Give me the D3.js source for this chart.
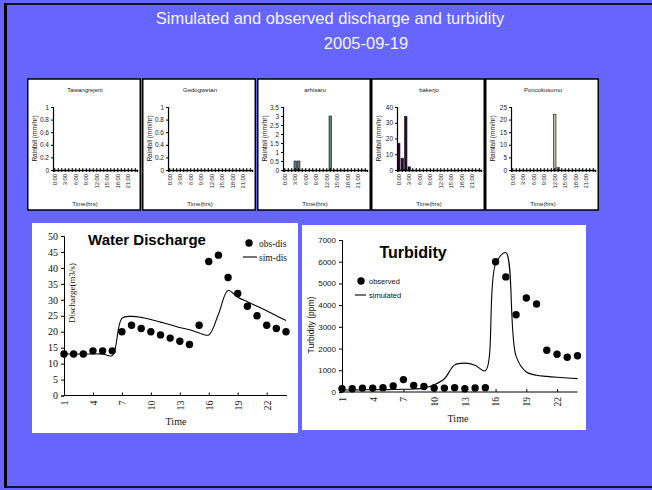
<!DOCTYPE html>
<html>
<head>
<meta charset="utf-8">
<script src="https://cdn.jsdelivr.net/npm/d3@7"></script>
<style>
  body { margin: 0; background: #6666ff; }
  svg { display: block; }
</style>
</head>
<body>
<svg id="chart" width="652" height="490"></svg>
<script>
// ---- rainfall by station (mm/hr), hourly 0:00 .. 23:00 ----
const hours = d3.range(24);
const hourLabels = ["0:00", "3:00", "6:00", "9:00", "12:00", "15:00", "18:00", "21:00"];
const stations = ["Tawangrejeni", "Gedogwetan", "arhisaru", "bakerjo", "Poncokusumo"];
const rainTawangrejeni = [0,0,0,0,0,0,0,0,0,0,0,0,0,0,0,0,0,0,0,0,0,0,0,0];
const rainGedogwetan   = [0,0,0,0,0,0,0,0,0,0,0,0,0,0,0,0,0,0,0,0,0,0,0,0];
const rainArhisaru     = [0,0,0,0.5,0.5,0,0,0,0,0,0,0,0,3,0,0,0,0,0,0,0,0,0,0];
const rainBakerjo      = [17,7.5,34,2,0,0,0,0,0,0,0,0,0,0,0,0,0,0,0,0,0,0,0,0];
const rainPoncokusumo  = [0,0,0,0,0,0,0,0,0,0,0,0,22,1,0,0,0,0,0,0,0,0,0,0];
const ticksTawangrejeni = [0, 0.2, 0.4, 0.6, 0.8, 1];
const ticksGedogwetan   = [0, 0.2, 0.4, 0.6, 0.8, 1];
const ticksArhisaru     = [0, 0.5, 1, 1.5, 2, 2.5, 3, 3.5];
const ticksBakerjo      = [0, 10, 20, 30, 40];
const ticksPoncokusumo  = [0, 5, 10, 15, 20, 25];

// ---- discharge and turbidity, hourly steps 1 .. 24 ----
const timeSteps = d3.range(1, 25);
const timeTicks = [1, 4, 7, 10, 13, 16, 19, 22];
const obsDischarge = [13,13,13,14,14,14,20,22,21,20,19,18,17,16,22,42,44,37,32,28,25,22,21,20];
const simDischarge = [13,13,13,13,13,12.5,24.2,24.8,24.5,23.8,23,22.2,21.3,20.6,19.6,19.0,25.5,32.9,30.8,29.4,28,26.6,25,23.5];
const dischargeTicks = [0,5,10,15,20,25,30,35,40,45,50];
const obsTurbidity = [150,150,180,180,200,280,570,300,250,185,180,200,150,185,200,6000,5300,3560,4330,4050,1920,1740,1600,1670];
const simTurbidity = [90,95,100,105,110,115,125,140,170,330,610,1250,1330,1230,980,5900,6420,1650,920,770,720,680,645,615];
const turbidityTicks = [0,1000,2000,3000,4000,5000,6000,7000];

const SANS = '"Liberation Sans", Arial, sans-serif';
const SERIF = '"Liberation Serif", "Times New Roman", serif';

const svg = d3.select("#chart");

// slide background and frame
svg.append("rect").attr("width", 652).attr("height", 490).attr("fill", "#6666ff");
svg.append("rect").attr("x", 4).attr("y", 3).attr("width", 648).attr("height", 2).attr("fill", "#141428");
svg.append("rect").attr("x", 4).attr("y", 486).attr("width", 648).attr("height", 2).attr("fill", "#141428");
svg.append("rect").attr("x", 4).attr("y", 3).attr("width", 3).attr("height", 485).attr("fill", "#000");

// slide title
svg.append("text").attr("x", 330).attr("y", 24).attr("text-anchor", "middle")
  .attr("font-family", SANS).attr("font-size", 16.5).attr("fill", "#f4f4fa")
  .text("Simulated and observed discharge and turbidity");
svg.append("text").attr("x", 366).attr("y", 49).attr("text-anchor", "middle")
  .attr("font-family", SANS).attr("font-size", 16.5).attr("fill", "#f4f4fa")
  .text("2005-09-19");

// ---- small rainfall panels ----
const rainSeries = [rainTawangrejeni, rainGedogwetan, rainArhisaru, rainBakerjo, rainPoncokusumo];
const rainTicks = [ticksTawangrejeni, ticksGedogwetan, ticksArhisaru, ticksBakerjo, ticksPoncokusumo];
const rainFill = ["#777", "#777", "#5c7d79", "#2e0a30", "#b8b8a8"];
const boxX = [27, 142, 257, 371, 485];
const boxY = 79, boxW = 114, boxH = 131;
const plotTop = 107, plotBottom = 170;

stations.forEach((name, i) => {
  const g = svg.append("g").attr("transform", `translate(${boxX[i]},0)`);
  g.append("rect").attr("x", 0.75).attr("y", boxY).attr("width", boxW - 1.5).attr("height", boxH)
    .attr("fill", "#fff").attr("stroke", "#000").attr("stroke-width", 1.5);
  g.append("text").attr("x", 58).attr("y", 92).attr("text-anchor", "middle")
    .attr("font-family", SANS).attr("font-size", 6).attr("fill", "#222").text(name);

  const left = 26;
  const x = d3.scaleBand().domain(hours).range([left, left + 84]).paddingInner(0.3).paddingOuter(0.15);
  const ticks = rainTicks[i];
  const y = d3.scaleLinear().domain([0, ticks[ticks.length - 1]]).range([plotBottom, plotTop]);

  g.append("g").selectAll("rect").data(rainSeries[i]).join("rect")
    .attr("x", (d, h) => x(h)).attr("width", x.bandwidth())
    .attr("y", d => y(d)).attr("height", d => plotBottom - y(d))
    .attr("fill", rainFill[i]).attr("stroke", "#111").attr("stroke-width", 0.6)
    .attr("visibility", d => d > 0 ? "visible" : "hidden");

  const ya = g.append("g").attr("transform", `translate(${left},0)`)
    .call(d3.axisLeft(y).tickValues(ticks).tickSize(2).tickPadding(2).tickFormat(d3.format("~g")));
  ya.select(".domain").attr("stroke-width", 1.2);
  ya.selectAll("text").attr("font-family", SANS).attr("font-size", 6.5).attr("fill", "#222");

  const xa = g.append("g").attr("transform", `translate(0,${plotBottom})`)
    .call(d3.axisBottom(x).tickValues(hours).tickSize(2)
      .tickFormat(h => h % 3 === 0 ? hourLabels[h / 3] : ""));
  xa.select(".domain").attr("stroke-width", 1.4);
  xa.selectAll(".tick line").attr("y1", -2).attr("y2", 2).attr("stroke-width", 1);
  xa.selectAll("text").attr("transform", "rotate(-90)").attr("x", -4).attr("y", 0)
    .attr("dy", "0.35em").attr("text-anchor", "end")
    .attr("font-family", SANS).attr("font-size", 5.8).attr("fill", "#222");

  g.append("text").attr("transform", `translate(${left - 16},${(plotTop + plotBottom) / 2}) rotate(-90)`)
    .attr("text-anchor", "middle").attr("font-family", SANS).attr("font-size", 6.5).attr("fill", "#222")
    .text("Rainfall (mm/hr)");
  g.append("text").attr("x", 58).attr("y", 206).attr("text-anchor", "middle")
    .attr("font-family", SANS).attr("font-size", 6).attr("fill", "#222").text("Time(hrs)");
});

// ---- Water Discharge panel ----
{
  const g = svg.append("g");
  g.append("rect").attr("x", 32).attr("y", 223).attr("width", 266).attr("height", 210).attr("fill", "#fff");
  const x = d3.scaleLinear().domain([1, 24]).range([64, 286]);
  const y = d3.scaleLinear().domain([0, 50]).range([395.5, 236]);

  const ya = g.append("g").attr("transform", "translate(64,0)")
    .call(d3.axisLeft(y).tickValues(dischargeTicks).tickSize(3).tickPadding(3).tickFormat(d3.format("d")));
  ya.selectAll("text").attr("font-family", SERIF).attr("font-size", 10).attr("fill", "#111");
  const xa = g.append("g").attr("transform", "translate(0,395.5)")
    .call(d3.axisBottom(x).tickValues(timeTicks).tickSizeInner(-3).tickSizeOuter(0).tickFormat(d3.format("d")));
  xa.select(".domain").attr("d", "M64,0H287");
  xa.selectAll("text").attr("transform", "rotate(-90)").attr("x", -5).attr("y", 0)
    .attr("dy", "0.35em").attr("text-anchor", "end")
    .attr("font-family", SERIF).attr("font-size", 10).attr("fill", "#111");

  g.append("path").datum(simDischarge)
    .attr("d", d3.line().x((d, i) => x(timeSteps[i])).y(d => y(d)).curve(d3.curveCatmullRom.alpha(0.5)))
    .attr("fill", "none").attr("stroke", "#000").attr("stroke-width", 1.1);
  g.append("g").selectAll("circle").data(obsDischarge).join("circle")
    .attr("cx", (d, i) => x(timeSteps[i])).attr("cy", d => y(d)).attr("r", 3.7).attr("fill", "#000");

  g.append("text").attr("x", 147).attr("y", 245).attr("text-anchor", "middle")
    .attr("font-family", SANS).attr("font-weight", "bold").attr("font-size", 15).attr("fill", "#000")
    .text("Water Discharge");
  g.append("text").attr("transform", "translate(75,293) rotate(-90)").attr("text-anchor", "middle")
    .attr("font-family", SERIF).attr("font-size", 9).attr("fill", "#111").text("Discharge(m3/s)");
  g.append("text").attr("x", 176).attr("y", 425).attr("text-anchor", "middle")
    .attr("font-family", SERIF).attr("font-size", 10).attr("fill", "#111").text("Time");

  // legend
  g.append("circle").attr("cx", 249).attr("cy", 243).attr("r", 3.7).attr("fill", "#000");
  g.append("text").attr("x", 259).attr("y", 246.5).attr("font-family", SERIF).attr("font-size", 9.5)
    .attr("fill", "#111").text("obs-dis");
  g.append("line").attr("x1", 243).attr("x2", 257).attr("y1", 257).attr("y2", 257)
    .attr("stroke", "#000").attr("stroke-width", 1.1);
  g.append("text").attr("x", 259).attr("y", 260.5).attr("font-family", SERIF).attr("font-size", 9.5)
    .attr("fill", "#111").text("sim-dis");
}

// ---- Turbidity panel ----
{
  const g = svg.append("g");
  g.append("rect").attr("x", 302).attr("y", 225).attr("width", 284).attr("height", 205).attr("fill", "#fff");
  const x = d3.scaleLinear().domain([1, 24]).range([342, 577.5]);
  const y = d3.scaleLinear().domain([0, 7000]).range([392, 240]);

  const ya = g.append("g").attr("transform", "translate(342,0)")
    .call(d3.axisLeft(y).tickValues(turbidityTicks).tickSize(3).tickPadding(3).tickFormat(d3.format("d")));
  ya.selectAll("text").attr("font-family", SANS).attr("font-size", 8).attr("fill", "#111");
  const xa = g.append("g").attr("transform", "translate(0,392)")
    .call(d3.axisBottom(x).tickValues(timeTicks).tickSizeInner(-3).tickSizeOuter(0).tickFormat(d3.format("d")));
  xa.select(".domain").attr("d", "M342,0H577.5");
  xa.selectAll("text").attr("transform", "rotate(-90)").attr("x", -5).attr("y", 0)
    .attr("dy", "0.35em").attr("text-anchor", "end")
    .attr("font-family", SERIF).attr("font-size", 9.5).attr("fill", "#111");

  g.append("path").datum(simTurbidity)
    .attr("d", d3.line().x((d, i) => x(timeSteps[i])).y(d => y(d)).curve(d3.curveCatmullRom.alpha(0.5)))
    .attr("fill", "none").attr("stroke", "#000").attr("stroke-width", 1.1);
  g.append("g").selectAll("circle").data(obsTurbidity).join("circle")
    .attr("cx", (d, i) => x(timeSteps[i])).attr("cy", d => y(d)).attr("r", 3.7).attr("fill", "#000");

  g.append("text").attr("x", 413).attr("y", 258).attr("text-anchor", "middle")
    .attr("font-family", SANS).attr("font-weight", "bold").attr("font-size", 16).attr("fill", "#000")
    .text("Turbidity");
  g.append("text").attr("transform", "translate(314,325) rotate(-90)").attr("text-anchor", "middle")
    .attr("font-family", SANS).attr("font-size", 8.5).attr("fill", "#111").text("Turbidity (ppm)");
  g.append("text").attr("x", 458).attr("y", 422).attr("text-anchor", "middle")
    .attr("font-family", SERIF).attr("font-size", 10).attr("fill", "#111").text("Time");

  // legend
  g.append("circle").attr("cx", 361).attr("cy", 281).attr("r", 3.7).attr("fill", "#000");
  g.append("text").attr("x", 369).attr("y", 284).attr("font-family", SANS).attr("font-size", 7.5)
    .attr("fill", "#111").text("observed");
  g.append("line").attr("x1", 355).attr("x2", 366).attr("y1", 295).attr("y2", 295)
    .attr("stroke", "#000").attr("stroke-width", 1.1);
  g.append("text").attr("x", 369).attr("y", 298).attr("font-family", SANS).attr("font-size", 7.5)
    .attr("fill", "#111").text("simulated");
}
</script>
</body>
</html>
